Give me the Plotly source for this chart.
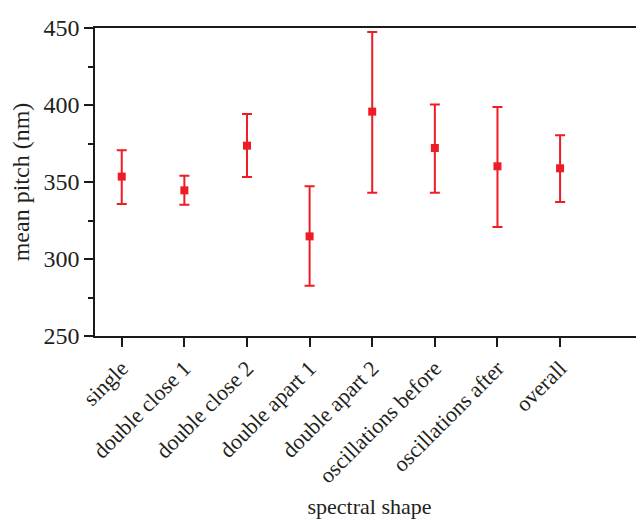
import plotly.graph_objects as go

categories = ["single", "double close 1", "double close 2", "double apart 1",
              "double apart 2", "oscillations before", "oscillations after", "overall"]
means = [353.5, 344.6, 373.6, 314.7, 395.7, 372.1, 360.2, 358.9]
upper = [370.6, 354.1, 394.2, 347.2, 447.4, 400.4, 398.7, 380.3]
lower = [335.7, 335.3, 353.2, 282.7, 343.1, 343.1, 320.8, 337.0]
y_ticks = [250, 300, 350, 400, 450]

err_plus = [u - m for u, m in zip(upper, means)]
err_minus = [m - l for m, l in zip(means, lower)]
xpos = list(range(len(categories)))

red = "#ee1c25"
axis_col = "#1a1a1a"
txt = "#231f20"
font = "Liberation Serif"

fig = go.Figure()
fig.add_trace(go.Scatter(
    x=xpos, y=means, mode="markers",
    marker=dict(symbol="square", size=8, color=red),
    error_y=dict(type="data", symmetric=False, array=err_plus, arrayminus=err_minus,
                 color=red, thickness=2, width=5),
    showlegend=False,
))

# page body has an 8px margin, so offsets compensate for it
fig.update_layout(
    width=644, height=521,
    margin=dict(l=87, r=8, t=20, b=193),
    paper_bgcolor="white", plot_bgcolor="white",
    font=dict(family=font, color=txt),
)
fig.update_xaxes(
    range=[-0.427, 8.34],
    tickmode="array", tickvals=xpos, ticktext=categories,
    tickangle=-45, tickfont=dict(size=22, family=font, color=txt),
    ticks="outside", ticklen=9, tickwidth=1.5, tickcolor=axis_col,
    showline=True, linecolor=axis_col, linewidth=1.5, mirror=True,
    showgrid=False, zeroline=False, automargin=False,
    title=dict(text="spectral shape", font=dict(size=22, family=font, color=txt), standoff=12),
)
fig.update_yaxes(
    range=[250, 450],
    tickmode="array", tickvals=y_ticks,
    tickfont=dict(size=24, family=font, color=txt),
    ticks="outside", ticklen=9, tickwidth=1.5, tickcolor=axis_col,
    minor=dict(ticks="outside", ticklen=5, tickwidth=1.5, tickcolor=axis_col, dtick=25, showgrid=False),
    showline=True, linecolor=axis_col, linewidth=1.5, mirror=False,
    showgrid=False, zeroline=False, automargin=False,
    title=dict(text="mean pitch (nm)", font=dict(size=24, family=font, color=txt), standoff=8),
)

fig.write_html("out.html")
